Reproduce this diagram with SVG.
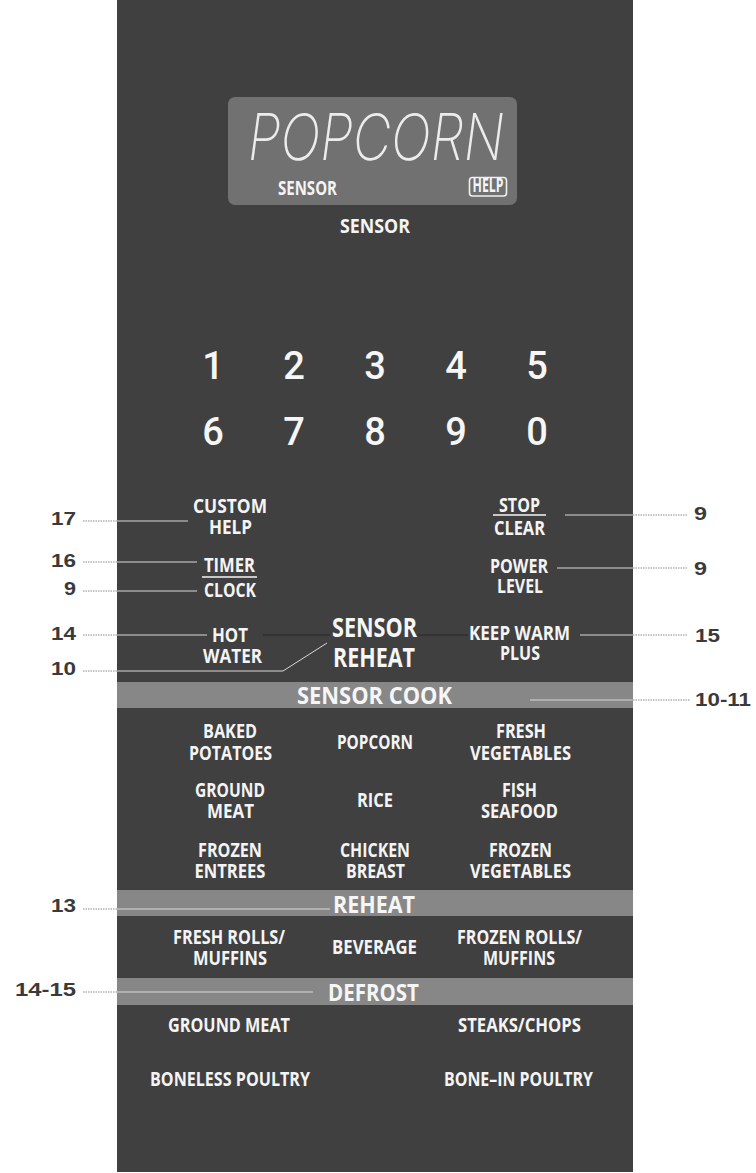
<svg xmlns="http://www.w3.org/2000/svg" width="756" height="1173" viewBox="0 0 756 1173">
  <style>
    .lbl { font-family: 'Open Sans', 'Liberation Sans', sans-serif; font-weight: 700; font-size: 20px; fill: #f4f4f4; text-anchor: middle; }
    .hdr { font-family: 'Open Sans', 'Liberation Sans', sans-serif; font-weight: 700; font-size: 24px; fill: #f6f6f6; text-anchor: middle; }
    .big { font-family: 'Open Sans', 'Liberation Sans', sans-serif; font-weight: 700; font-size: 26px; fill: #f6f6f6; text-anchor: middle; }
    .num { font-family: Roboto, 'Liberation Sans', sans-serif; font-weight: 500; font-size: 38px; fill: #f6f6f6; text-anchor: middle; }
    .ref { font-family: 'Liberation Sans', Arial, sans-serif; font-weight: bold; font-size: 19px; fill: #3a3a3a; }
    .refL { text-anchor: end; }
    .out { stroke: #8a8a8a; stroke-width: 1; fill: none; stroke-dasharray: 1.5 1; }
    .in { stroke: #d8d8d8; stroke-width: 1; fill: none; }
    .dk { stroke: #262626; stroke-width: 1; fill: none; }
    .bar { stroke: #f4f4f4; stroke-width: 1.6; }
    .band { fill: #878787; }
  </style>

  <rect x="0" y="0" width="756" height="1173" fill="#ffffff"/>

  <g id="panel">
    <rect x="117" y="0" width="516" height="1172" fill="#404040"/>
  </g>

  <g id="display">
    <rect x="228" y="97" width="289" height="108" rx="7" fill="#717171"/>
    <text x="376" y="160" font-family="Inter, 'DejaVu Sans', sans-serif" font-weight="200" font-style="italic" font-size="64" fill="#ececec" text-anchor="middle" textLength="256" lengthAdjust="spacingAndGlyphs">POPCORN</text>
    <text class="lbl" x="307.5" y="195" font-size="20" textLength="59" lengthAdjust="spacingAndGlyphs">SENSOR</text>
    <rect x="469.5" y="177.5" width="37" height="18.5" rx="3" fill="none" stroke="#f0f0f0" stroke-width="1.6"/>
    <text class="lbl" x="488" y="192" font-size="14" textLength="31" lengthAdjust="spacingAndGlyphs">HELP</text>
  </g>

  <g id="sensor-indicator">
    <text class="lbl" x="375" y="233" textLength="70" lengthAdjust="spacingAndGlyphs">SENSOR</text>
  </g>

  <g id="keypad">
    <text class="num" x="213" y="379">1</text>
    <text class="num" x="294" y="379">2</text>
    <text class="num" x="375" y="379">3</text>
    <text class="num" x="456" y="379">4</text>
    <text class="num" x="537" y="379">5</text>
    <text class="num" x="213" y="445">6</text>
    <text class="num" x="294" y="445">7</text>
    <text class="num" x="375" y="445">8</text>
    <text class="num" x="456" y="445">9</text>
    <text class="num" x="537" y="445">0</text>
  </g>

  <g id="custom-help">
    <text class="lbl"><tspan x="230" y="513" textLength="74" lengthAdjust="spacingAndGlyphs">CUSTOM</tspan><tspan x="230.5" y="534" textLength="43" lengthAdjust="spacingAndGlyphs">HELP</tspan></text>
  </g>

  <g id="timer-clock">
    <text class="lbl"><tspan x="229.5" y="572" textLength="51" lengthAdjust="spacingAndGlyphs">TIMER</tspan><tspan x="230" y="597" textLength="52" lengthAdjust="spacingAndGlyphs">CLOCK</tspan></text>
    <line class="bar" x1="202" y1="577" x2="257" y2="577"/>
  </g>

  <g id="hot-water">
    <text class="lbl"><tspan x="230" y="642" textLength="36" lengthAdjust="spacingAndGlyphs">HOT</tspan><tspan x="232.5" y="663" textLength="59" lengthAdjust="spacingAndGlyphs">WATER</tspan></text>
  </g>

  <g id="stop-clear">
    <text class="lbl"><tspan x="519.5" y="512" textLength="41" lengthAdjust="spacingAndGlyphs">STOP</tspan><tspan x="519.5" y="535" textLength="51" lengthAdjust="spacingAndGlyphs">CLEAR</tspan></text>
    <line class="bar" x1="493" y1="515" x2="546" y2="515"/>
  </g>

  <g id="power-level">
    <text class="lbl"><tspan x="519" y="573" textLength="58" lengthAdjust="spacingAndGlyphs">POWER</tspan><tspan x="520" y="593" textLength="46" lengthAdjust="spacingAndGlyphs">LEVEL</tspan></text>
  </g>

  <g id="keep-warm-plus">
    <text class="lbl"><tspan x="519.5" y="640" textLength="101" lengthAdjust="spacingAndGlyphs">KEEP WARM</tspan><tspan x="520" y="660" textLength="40" lengthAdjust="spacingAndGlyphs">PLUS</tspan></text>
  </g>

  <g id="sensor-reheat">
    <text class="big"><tspan x="374.5" y="637" textLength="85" lengthAdjust="spacingAndGlyphs">SENSOR</tspan><tspan x="374" y="667" textLength="82" lengthAdjust="spacingAndGlyphs">REHEAT</tspan></text>
  </g>

  <g id="sensor-cook-band">
    <rect class="band" x="117" y="682" width="516" height="26"/>
    <text class="hdr" x="374.5" y="704" font-size="23" textLength="155" lengthAdjust="spacingAndGlyphs">SENSOR COOK</text>
  </g>

  <g id="baked-potatoes">
    <text class="lbl"><tspan x="230" y="738" textLength="54" lengthAdjust="spacingAndGlyphs">BAKED</tspan><tspan x="230.5" y="760" textLength="83" lengthAdjust="spacingAndGlyphs">POTATOES</tspan></text>
  </g>
  <g id="popcorn">
    <text class="lbl" x="375" y="749" textLength="76" lengthAdjust="spacingAndGlyphs">POPCORN</text>
  </g>
  <g id="fresh-vegetables">
    <text class="lbl"><tspan x="521" y="738" textLength="50" lengthAdjust="spacingAndGlyphs">FRESH</tspan><tspan x="520.5" y="760" textLength="101" lengthAdjust="spacingAndGlyphs">VEGETABLES</tspan></text>
  </g>
  <g id="ground-meat">
    <text class="lbl"><tspan x="230" y="797" textLength="70" lengthAdjust="spacingAndGlyphs">GROUND</tspan><tspan x="230.5" y="818" textLength="47" lengthAdjust="spacingAndGlyphs">MEAT</tspan></text>
  </g>
  <g id="rice">
    <text class="lbl" x="375" y="807" textLength="36" lengthAdjust="spacingAndGlyphs">RICE</text>
  </g>
  <g id="fish-seafood">
    <text class="lbl"><tspan x="519.5" y="797" textLength="35" lengthAdjust="spacingAndGlyphs">FISH</tspan><tspan x="519.5" y="818" textLength="77" lengthAdjust="spacingAndGlyphs">SEAFOOD</tspan></text>
  </g>
  <g id="frozen-entrees">
    <text class="lbl"><tspan x="230" y="857" textLength="64" lengthAdjust="spacingAndGlyphs">FROZEN</tspan><tspan x="230" y="878" textLength="71" lengthAdjust="spacingAndGlyphs">ENTREES</tspan></text>
  </g>
  <g id="chicken-breast">
    <text class="lbl"><tspan x="375" y="857" textLength="70" lengthAdjust="spacingAndGlyphs">CHICKEN</tspan><tspan x="375.5" y="878" textLength="59" lengthAdjust="spacingAndGlyphs">BREAST</tspan></text>
  </g>
  <g id="frozen-vegetables">
    <text class="lbl"><tspan x="520.5" y="857" textLength="63" lengthAdjust="spacingAndGlyphs">FROZEN</tspan><tspan x="520.5" y="878" textLength="101" lengthAdjust="spacingAndGlyphs">VEGETABLES</tspan></text>
  </g>

  <g id="reheat-band">
    <rect class="band" x="117" y="890" width="516" height="26"/>
    <text class="hdr" x="374" y="913" textLength="82" lengthAdjust="spacingAndGlyphs">REHEAT</text>
  </g>

  <g id="fresh-rolls">
    <text class="lbl"><tspan x="229" y="944" textLength="112" lengthAdjust="spacingAndGlyphs">FRESH ROLLS/</tspan><tspan x="230" y="965" textLength="74" lengthAdjust="spacingAndGlyphs">MUFFINS</tspan></text>
  </g>
  <g id="beverage">
    <text class="lbl" x="374.5" y="954" textLength="85" lengthAdjust="spacingAndGlyphs">BEVERAGE</text>
  </g>
  <g id="frozen-rolls">
    <text class="lbl"><tspan x="519.5" y="944" textLength="125" lengthAdjust="spacingAndGlyphs">FROZEN ROLLS/</tspan><tspan x="519" y="965" textLength="72" lengthAdjust="spacingAndGlyphs">MUFFINS</tspan></text>
  </g>

  <g id="defrost-band">
    <rect class="band" x="117" y="978" width="516" height="27"/>
    <text class="hdr" x="373.5" y="1001" textLength="91" lengthAdjust="spacingAndGlyphs">DEFROST</text>
  </g>

  <g id="defrost-ground-meat">
    <text class="lbl" x="229" y="1032" textLength="122" lengthAdjust="spacingAndGlyphs">GROUND MEAT</text>
  </g>
  <g id="steaks-chops">
    <text class="lbl" x="519.5" y="1032" textLength="123" lengthAdjust="spacingAndGlyphs">STEAKS/CHOPS</text>
  </g>
  <g id="boneless-poultry">
    <text class="lbl" x="230" y="1086" textLength="160" lengthAdjust="spacingAndGlyphs">BONELESS POULTRY</text>
  </g>
  <g id="bone-in-poultry">
    <text class="lbl" x="518.5" y="1086" textLength="149" lengthAdjust="spacingAndGlyphs">BONE–IN POULTRY</text>
  </g>

  <g id="connectors">
    <line class="out" x1="83" y1="521" x2="117" y2="521"/>
    <line class="in" x1="117" y1="521" x2="188" y2="521"/>
    <line class="out" x1="83" y1="562" x2="117" y2="562"/>
    <line class="in" x1="117" y1="562" x2="197" y2="562"/>
    <line class="out" x1="83" y1="591" x2="117" y2="591"/>
    <line class="in" x1="117" y1="591" x2="197" y2="591"/>
    <line class="out" x1="83" y1="635" x2="117" y2="635"/>
    <line class="in" x1="117" y1="635" x2="207" y2="635"/>
    <line class="dk" x1="263" y1="635" x2="330" y2="635"/>
    <line class="dk" x1="417" y1="635" x2="468" y2="635"/>
    <line class="out" x1="83" y1="671" x2="117" y2="671"/>
    <polyline class="in" points="117,671 283,671 327,643"/>
    <line class="in" x1="565" y1="515" x2="633" y2="515"/>
    <line class="out" x1="633" y1="515" x2="688" y2="515"/>
    <line class="in" x1="557" y1="568" x2="633" y2="568"/>
    <line class="out" x1="633" y1="568" x2="688" y2="568"/>
    <line class="in" x1="580" y1="635" x2="633" y2="635"/>
    <line class="out" x1="633" y1="635" x2="688" y2="635"/>
    <line class="in" x1="530" y1="700" x2="633" y2="700"/>
    <line class="out" x1="633" y1="700" x2="690" y2="700"/>
    <line class="out" x1="83" y1="909" x2="117" y2="909"/>
    <line class="in" x1="117" y1="909" x2="330" y2="909"/>
    <line class="out" x1="83" y1="992" x2="117" y2="992"/>
    <line class="in" x1="117" y1="992" x2="313" y2="992"/>
  </g>

  <g id="ref-labels">
    <text class="ref refL" x="76" y="525" textLength="25" lengthAdjust="spacingAndGlyphs">17</text>
    <text class="ref refL" x="76" y="567" textLength="25" lengthAdjust="spacingAndGlyphs">16</text>
    <text class="ref refL" x="76" y="595" textLength="12" lengthAdjust="spacingAndGlyphs">9</text>
    <text class="ref refL" x="76" y="640" textLength="25" lengthAdjust="spacingAndGlyphs">14</text>
    <text class="ref refL" x="76" y="675" textLength="25" lengthAdjust="spacingAndGlyphs">10</text>
    <text class="ref refL" x="76" y="912" textLength="25" lengthAdjust="spacingAndGlyphs">13</text>
    <text class="ref refL" x="76" y="996" textLength="61" lengthAdjust="spacingAndGlyphs">14-15</text>
    <text class="ref" x="694" y="520" textLength="13" lengthAdjust="spacingAndGlyphs">9</text>
    <text class="ref" x="694" y="575" textLength="13" lengthAdjust="spacingAndGlyphs">9</text>
    <text class="ref" x="695" y="642" textLength="25" lengthAdjust="spacingAndGlyphs">15</text>
    <text class="ref" x="695" y="706" textLength="56" lengthAdjust="spacingAndGlyphs">10-11</text>
  </g>
</svg>
